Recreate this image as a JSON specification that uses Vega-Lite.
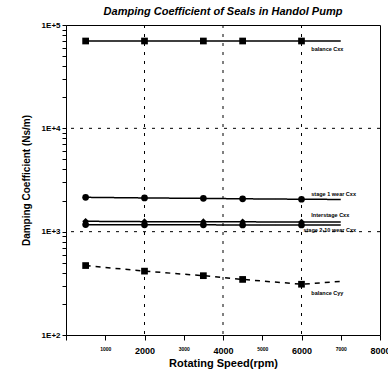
{
  "$schema": "https://vega.github.io/schema/vega-lite/v6.json",
  "autosize": "none",
  "padding": {"left": 66, "top": 25, "right": 8, "bottom": 44},
  "width": 314,
  "height": 310,
  "background": "white",
  "title": {"text": "Damping Coefficient of Seals in Handol Pump", "font": "Liberation Sans", "fontSize": 11, "fontStyle": "italic", "fontWeight": "bold", "color": "black", "offset": 4},
  "config": {"view": {"stroke": "black", "strokeWidth": 1}, "font": "Liberation Sans"},
  "datasets": {
    "series": [
      {"rpm": 500, "c": 70000, "s": "balance Cxx"},
      {"rpm": 2000, "c": 70000, "s": "balance Cxx"},
      {"rpm": 3500, "c": 70000, "s": "balance Cxx"},
      {"rpm": 4500, "c": 70000, "s": "balance Cxx"},
      {"rpm": 6000, "c": 70000, "s": "balance Cxx"},
      {"rpm": 7000, "c": 70000, "s": "balance Cxx"},
      {"rpm": 500, "c": 2150, "s": "stage 1 wear Cxx"},
      {"rpm": 2000, "c": 2120, "s": "stage 1 wear Cxx"},
      {"rpm": 3500, "c": 2100, "s": "stage 1 wear Cxx"},
      {"rpm": 4500, "c": 2080, "s": "stage 1 wear Cxx"},
      {"rpm": 6000, "c": 2060, "s": "stage 1 wear Cxx"},
      {"rpm": 7000, "c": 2050, "s": "stage 1 wear Cxx"},
      {"rpm": 500, "c": 1260, "s": "Interstage Cxx"},
      {"rpm": 2000, "c": 1250, "s": "Interstage Cxx"},
      {"rpm": 3500, "c": 1250, "s": "Interstage Cxx"},
      {"rpm": 4500, "c": 1245, "s": "Interstage Cxx"},
      {"rpm": 6000, "c": 1240, "s": "Interstage Cxx"},
      {"rpm": 7000, "c": 1240, "s": "Interstage Cxx"},
      {"rpm": 500, "c": 1170, "s": "stage 2-10 wear Cxx"},
      {"rpm": 2000, "c": 1165, "s": "stage 2-10 wear Cxx"},
      {"rpm": 3500, "c": 1165, "s": "stage 2-10 wear Cxx"},
      {"rpm": 4500, "c": 1160, "s": "stage 2-10 wear Cxx"},
      {"rpm": 6000, "c": 1160, "s": "stage 2-10 wear Cxx"},
      {"rpm": 7000, "c": 1160, "s": "stage 2-10 wear Cxx"},
      {"rpm": 500, "c": 470, "s": "balance Cyy"},
      {"rpm": 2000, "c": 415, "s": "balance Cyy"},
      {"rpm": 3500, "c": 375, "s": "balance Cyy"},
      {"rpm": 4500, "c": 345, "s": "balance Cyy"},
      {"rpm": 6000, "c": 310, "s": "balance Cyy"},
      {"rpm": 7000, "c": 330, "s": "balance Cyy"}
    ],
    "labels": [
      {"rpm": 6250, "c": 58000, "t": "balance Cxx"},
      {"rpm": 6250, "c": 2300, "t": "stage 1 wear Cxx"},
      {"rpm": 6250, "c": 1450, "t": "Interstage Cxx"},
      {"rpm": 6050, "c": 1040, "t": "stage 2-10 wear Cxx"},
      {"rpm": 6250, "c": 255, "t": "balance Cyy"}
    ],
    "vgrid": [{"rpm": 2000}, {"rpm": 4000}, {"rpm": 6000}],
    "hgrid": [{"c": 1000}, {"c": 10000}]
  },
  "layer": [
    {
      "data": {"name": "series"},
      "mark": {"type": "line", "color": "black", "strokeWidth": 1.5},
      "encoding": {
        "x": {"field": "rpm", "type": "quantitative", "scale": {"domain": [0, 8000], "nice": false},
          "axis": {"title": "Rotating Speed(rpm)", "titleFont": "Liberation Sans", "titleFontSize": 11, "titleFontWeight": "bold", "titleColor": "black", "titlePadding": 2,
            "tickCount": 8,
            "labelExpr": "datum.value == 0 ? '' : '' + datum.value",
            "labelOverlap": false,
            "labelFontSize": {"condition": {"test": "datum.value % 2000 === 0", "value": 9}, "value": 5},
            "labelBaseline": "top",
            "labelFontWeight": "bold", "labelColor": "black", "labelPadding": 6,
            "grid": false, "domainColor": "black", "tickColor": "black", "tickSize": 5, "tickWidth": 1, "labelFlush": false}},
        "y": {"field": "c", "type": "quantitative", "scale": {"type": "log", "domain": [100, 100000], "nice": false},
          "axis": {"title": "Damping Coefficient (Ns/m)", "titleFont": "Liberation Sans", "titleFontSize": 10, "titleFontWeight": "bold", "titleColor": "black", "titlePadding": 10,
            "tickCount": 20,
            "labelExpr": "abs(log(datum.value)/LN10 - round(log(datum.value)/LN10)) < 0.001 ? '1E+' + round(log(datum.value)/LN10) : ''",
            "labelOverlap": false,
            "labelFontSize": 8, "labelFontWeight": "bold", "labelColor": "black",
            "grid": false, "domainColor": "black", "tickColor": "black", "tickSize": 4, "tickWidth": 1}},
        "detail": {"field": "s"},
        "strokeDash": {"field": "s", "type": "nominal", "legend": null,
          "scale": {"domain": ["balance Cxx", "stage 1 wear Cxx", "Interstage Cxx", "stage 2-10 wear Cxx", "balance Cyy"],
            "range": [[1, 0], [1, 0], [1, 0], [1, 0], [5, 5]]}}
      }
    },
    {
      "data": {"name": "vgrid"},
      "mark": {"type": "rule", "color": "black", "strokeDash": [3, 6], "strokeWidth": 1},
      "encoding": {"x": {"field": "rpm", "type": "quantitative"}}
    },
    {
      "data": {"name": "hgrid"},
      "mark": {"type": "rule", "color": "black", "strokeDash": [3, 6], "strokeWidth": 1},
      "encoding": {"y": {"field": "c", "type": "quantitative"}}
    },
    {
      "data": {"name": "series"},
      "transform": [{"filter": "datum.rpm < 7000"}],
      "mark": {"type": "point", "filled": true, "color": "black", "opacity": 1, "size": 45},
      "encoding": {
        "x": {"field": "rpm", "type": "quantitative"},
        "y": {"field": "c", "type": "quantitative"},
        "shape": {"field": "s", "type": "nominal", "legend": null,
          "scale": {"domain": ["balance Cxx", "stage 1 wear Cxx", "Interstage Cxx", "stage 2-10 wear Cxx", "balance Cyy"],
            "range": ["square", "circle", "diamond", "circle", "square"]}}
      }
    },
    {
      "data": {"name": "labels"},
      "mark": {"type": "text", "align": "left", "baseline": "middle", "fontSize": 5.5, "fontWeight": "bold", "color": "black", "font": "Liberation Sans"},
      "encoding": {
        "x": {"field": "rpm", "type": "quantitative"},
        "y": {"field": "c", "type": "quantitative"},
        "text": {"field": "t"}
      }
    }
  ]
}
